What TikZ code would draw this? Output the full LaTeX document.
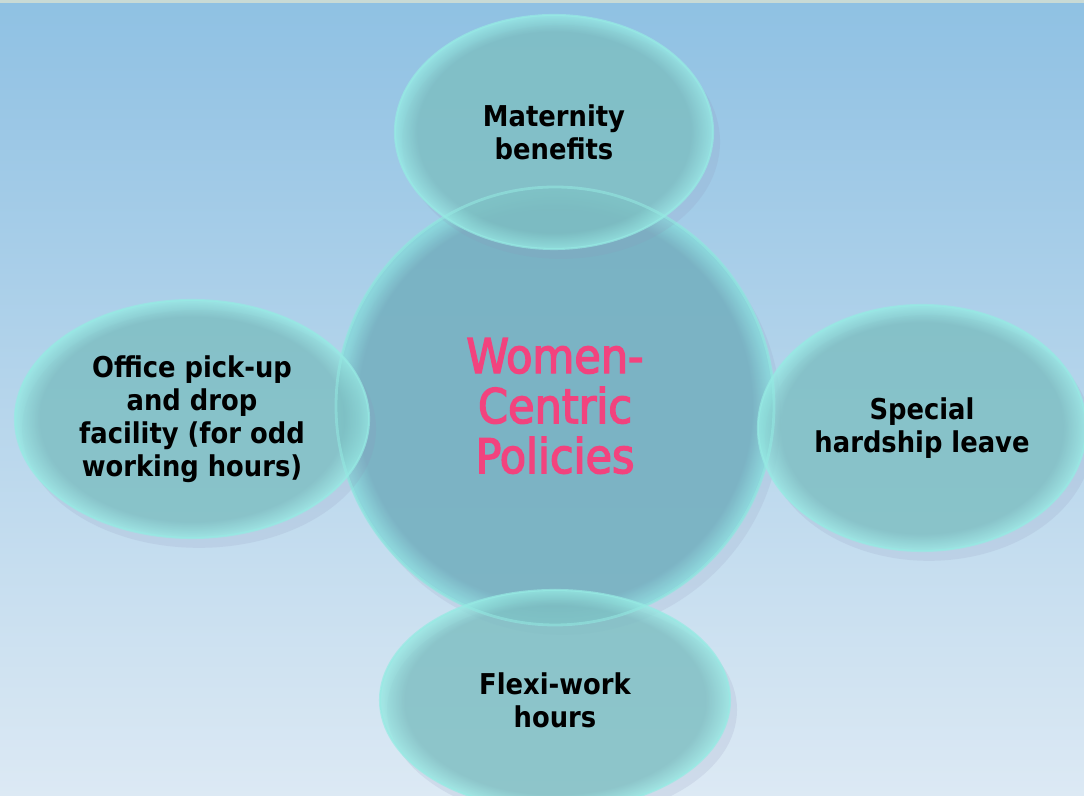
\documentclass[tikz,border=0pt]{standalone}
\usepackage{fontspec}
\setmainfont{DejaVu Sans Condensed}
\newfontfamily\hubfont{DejaVu Sans Condensed}[FakeBold=3]
\usetikzlibrary{shapes.geometric,shadows}
\definecolor{skytop}{HTML}{8FC1E3}
\definecolor{skybottom}{HTML}{DCE9F4}
\definecolor{topstrip}{HTML}{C9DAD5}
\definecolor{bubblefill}{HTML}{7CC0C2}
\definecolor{bubbleedge}{HTML}{96EAE3}
\definecolor{hubfill}{HTML}{76B1C1}
\definecolor{hubedge}{HTML}{88D6DA}
\definecolor{hubtext}{HTML}{F2437E}
\definecolor{shadowc}{HTML}{8E93B8}
\pgfdeclareradialshading{bubbleglow}{\pgfpoint{0bp}{0bp}}{%
  color(0bp)=(bubblefill); color(21.5bp)=(bubblefill);
  color(24bp)=(bubbleedge!70!bubblefill); color(25bp)=(bubbleedge); color(50bp)=(bubbleedge)}
\pgfdeclareradialshading{hubglow}{\pgfpoint{0bp}{0bp}}{%
  color(0bp)=(hubfill); color(22.5bp)=(hubfill);
  color(24.6bp)=(hubedge); color(25bp)=(hubedge); color(50bp)=(hubedge)}
\begin{document}
\begin{tikzpicture}
	[bubble/.style={ellipse,inner sep=0pt,shading=bubbleglow,fill opacity=0.78,text opacity=1,
		draw=bubbleedge,draw opacity=0.7,line width=1.5pt,align=center,
		drop shadow={shadow xshift=5pt,shadow yshift=-7pt,fill=shadowc,opacity=0.16},
		font=\bfseries\fontsize{20.4}{23.5}\selectfont},
	hub/.style={circle,inner sep=0pt,shading=hubglow,fill opacity=0.9,text opacity=1,
		draw=hubedge,draw opacity=0.6,line width=1.5pt,align=center,text=hubtext,
		drop shadow={shadow xshift=5pt,shadow yshift=-7pt,fill=shadowc,opacity=0.15},
		font=\hubfont\fontsize{34}{35.6}\selectfont},
	rim/.style={draw=bubbleedge,line width=2pt,draw opacity=0.55}]
	% background
	\useasboundingbox (0,0) rectangle (27.1,19.9);
	\shade[top color=skytop,bottom color=skybottom] (0,0) rectangle (27.1,19.9);
	\fill[topstrip] (0,19.83) rectangle (27.1,19.9);
	% centre
	\node[hub,minimum size=10.95cm] (policies) at (13.875,9.75) {Women-\\Centric\\Policies};
	% outer bubbles
	\node[bubble,minimum width=7.95cm,minimum height=5.85cm] (maternity) at (13.85,16.6) {Maternity\\benefits};
	\node[bubble,minimum width=8.85cm,minimum height=5.95cm] (pickup) at (4.8,9.425) {Office pick-up\\and drop\\facility (for odd\\working hours)};
	\node[bubble,minimum width=8.2cm,minimum height=6.15cm] (hardship) at (23.05,9.2) {Special\\hardship leave};
	\node[bubble,minimum width=8.75cm,minimum height=5.5cm] (flexi) at (13.875,2.4) {Flexi-work\\hours};
	% rim of the centre showing through
	\draw[rim] (policies.center) circle (5.475cm);
\end{tikzpicture}
\end{document}
